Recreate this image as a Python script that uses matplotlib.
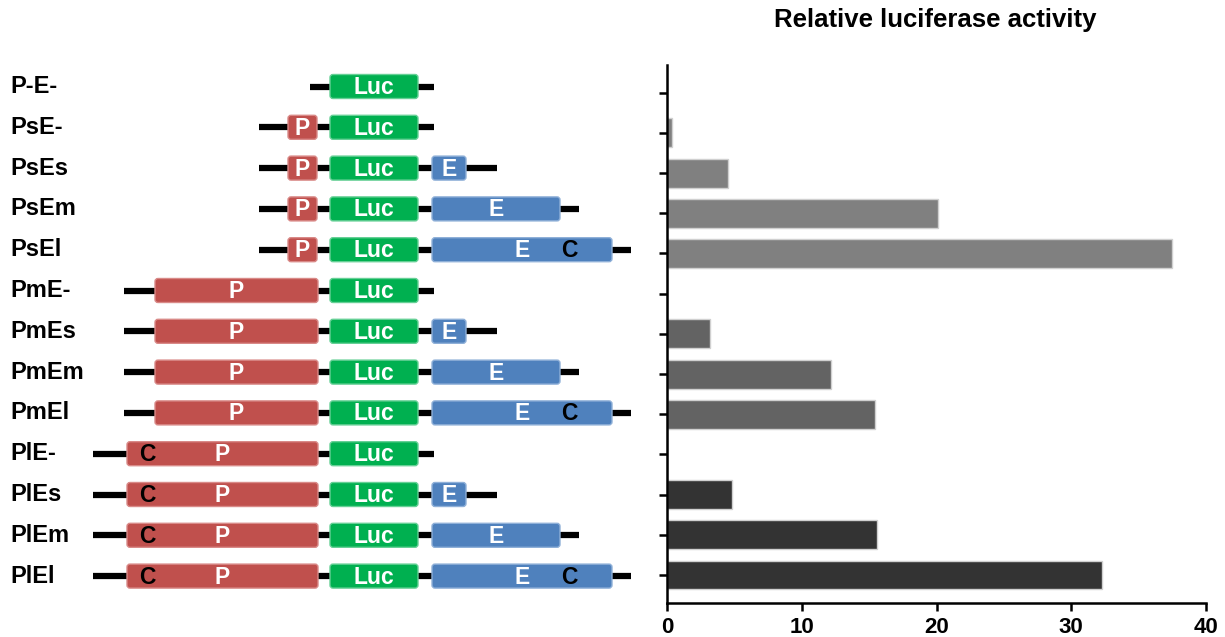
import matplotlib
matplotlib.use("Agg")
import matplotlib.pyplot as plt
from matplotlib.patches import FancyBboxPatch

plt.rcParams['font.family'] = ['Liberation Sans', 'DejaVu Sans']

# constructs, top to bottom
constructs = ["P-E-", "PsE-", "PsEs", "PsEm", "PsEl",
              "PmE-", "PmEs", "PmEm", "PmEl",
              "PlE-", "PlEs", "PlEm", "PlEl"]
promoter_types = ["-", "s", "s", "s", "s", "m", "m", "m", "m", "l", "l", "l", "l"]
enhancer_types = ["-", "-", "s", "m", "l", "-", "s", "m", "l", "-", "s", "m", "l"]
activity = [0, 0.35, 4.5, 20.1, 37.5, 0, 3.2, 12.2, 15.4, 0, 4.8, 15.6, 32.3]
bar_colors = {"-": "#808080", "s": "#808080", "m": "#636363", "l": "#333333"}
x_ticks = [0, 10, 20, 30, 40]

# schematic element extents (diagram units)
backbone_start = {"-": 310, "s": 259, "m": 124, "l": 93}
backbone_end = {"-": 434, "s": 497, "m": 579, "l": 631}
promoter_box = {"s": (288, 317), "m": (155, 318), "l": (127, 318)}
luc_box = (330, 418)
enhancer_box = {"s": (432, 466), "m": (432, 560), "l": (432, 612)}
promoter_labels = {"s": [("P", None, "white")], "m": [("P", None, "white")],
                   "l": [("C", 147, "black"), ("P", 222, "white")]}
enhancer_labels = {"s": [("E", None, "white")], "m": [("E", None, "white")],
                   "l": [("E", 522, "white"), ("C", 569, "black")]}

RED = "#C0504D"
GREEN = "#00B050"
BLUE = "#4F81BD"

fig = plt.figure(figsize=(12.25, 6.37), dpi=100)

# ---- left: construct diagrams
axd = fig.add_axes([0, 0, 650 / 1225, 1])
axd.set_xlim(0, 650)
axd.set_ylim(637, 0)
axd.axis('off')

row_top, row_step, box_h = 86.5, 40.8, 24


def draw_box(y, x0, x1, color, edge):
    p = FancyBboxPatch((x0, y - box_h / 2), x1 - x0, box_h,
                       boxstyle="round,pad=0,rounding_size=3",
                       facecolor=color, edgecolor=edge, linewidth=1, zorder=3)
    axd.add_patch(p)


def box_text(x, y, s, color):
    axd.text(x, y + 1, s, color=color, fontsize=16.5, fontweight='bold',
             ha='center', va='center', zorder=4)


for i, name in enumerate(constructs):
    y = row_top + i * row_step
    pt, et = promoter_types[i], enhancer_types[i]
    axd.text(10, y, name, fontsize=17, fontweight='bold', ha='left', va='center')
    axd.plot([backbone_start[pt], backbone_end[et]], [y, y], color='black',
             linewidth=4.5, solid_capstyle='butt', zorder=1)
    if pt != "-":
        x0, x1 = promoter_box[pt]
        draw_box(y, x0, x1, RED, "#d98a88")
        for s, xs, c in promoter_labels[pt]:
            box_text((x0 + x1) / 2 if xs is None else xs, y, s, c)
    draw_box(y, luc_box[0], luc_box[1], GREEN, "#66d096")
    box_text((luc_box[0] + luc_box[1]) / 2, y, "Luc", "white")
    if et != "-":
        x0, x1 = enhancer_box[et]
        draw_box(y, x0, x1, BLUE, "#8fb0d8")
        for s, xs, c in enhancer_labels[et]:
            box_text((x0 + x1) / 2 if xs is None else xs, y, s, c)

# ---- right: bar chart
ax = fig.add_axes([667 / 1225, 1 - 602.7 / 637, (1206 - 667) / 1225, (602.7 - 65) / 637])
rows = list(range(len(constructs)))
ax.barh(rows, activity, height=0.72, color=[bar_colors[p] for p in promoter_types],
        edgecolor='#d0d0d0', linewidth=1)
ax.set_ylim(len(constructs) - 1 + 0.69, -0.69)
ax.set_xlim(0, 40)
ax.set_yticks(rows)
ax.set_yticklabels([])
ax.set_xticks(x_ticks)
for sp in ['top', 'right']:
    ax.spines[sp].set_visible(False)
for sp in ['left', 'bottom']:
    ax.spines[sp].set_linewidth(1.8)
ax.tick_params(axis='both', length=6, width=1.8, direction='out')
ax.tick_params(axis='x', pad=4)
ax.set_xticklabels([str(t) for t in x_ticks], fontsize=16, fontweight='bold')

fig.text(935 / 1225, 1 - 20 / 637, "Relative luciferase activity", fontsize=18.5,
         fontweight='bold', ha='center', va='center')

fig.savefig("out.png", dpi=100)
